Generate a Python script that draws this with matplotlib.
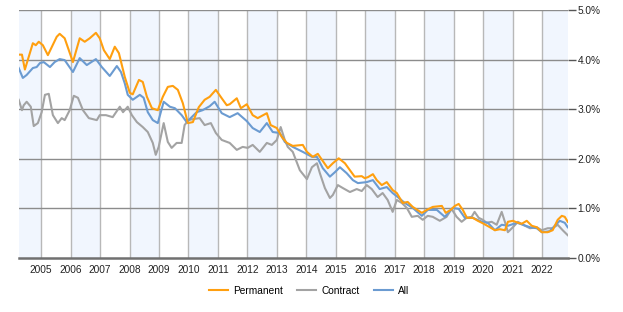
import matplotlib
matplotlib.use("Agg")
import matplotlib.pyplot as plt
from matplotlib.ticker import FuncFormatter

# ---- data (decimal year, percent) ----
perm_t = [2004.24, 2004.35, 2004.45, 2004.72, 2004.82, 2004.92, 2005.06, 2005.23, 2005.53, 2005.63,
          2005.80, 2006.08, 2006.31, 2006.48, 2006.65, 2006.86, 2006.99, 2007.13, 2007.33, 2007.50,
          2007.64, 2007.84, 2008.01, 2008.11, 2008.32, 2008.45, 2008.59, 2008.76, 2008.96, 2009.13,
          2009.30, 2009.47, 2009.64, 2009.81, 2009.98, 2010.15, 2010.35, 2010.55, 2010.72, 2010.93,
          2011.13, 2011.30, 2011.40, 2011.64, 2011.78, 2011.98, 2012.18, 2012.35, 2012.66, 2012.79,
          2013.00, 2013.17, 2013.34, 2013.54, 2013.88, 2014.02, 2014.22, 2014.39, 2014.53, 2014.73,
          2014.90, 2015.10, 2015.31, 2015.48, 2015.64, 2015.88, 2015.98, 2016.09, 2016.26, 2016.39,
          2016.56, 2016.73, 2016.93, 2017.07, 2017.27, 2017.44, 2017.61, 2017.92, 2018.09, 2018.29,
          2018.60, 2018.73, 2018.90, 2019.04, 2019.17, 2019.31, 2019.45, 2019.65, 2019.82, 2019.99,
          2020.23, 2020.40, 2020.57, 2020.74, 2020.84, 2021.01, 2021.18, 2021.31, 2021.48, 2021.65,
          2021.82, 2021.99, 2022.19, 2022.36, 2022.53, 2022.67, 2022.77, 2022.87]
perm_v = [4.10, 4.10, 3.80, 4.33, 4.29, 4.36, 4.29, 4.09, 4.46, 4.52,
          4.43, 3.95, 4.43, 4.36, 4.43, 4.54, 4.43, 4.19, 4.01, 4.26,
          4.13, 3.65, 3.33, 3.30, 3.59, 3.55, 3.25, 3.02, 2.98, 3.25,
          3.45, 3.47, 3.39, 3.12, 2.72, 2.74, 3.04, 3.19, 3.25, 3.39,
          3.22, 3.08, 3.10, 3.22, 3.02, 3.10, 2.88, 2.82, 2.92, 2.68,
          2.62, 2.44, 2.32, 2.26, 2.28, 2.14, 2.04, 2.10, 1.98, 1.81,
          1.91, 2.01, 1.91, 1.77, 1.64, 1.65, 1.61, 1.63, 1.69, 1.57,
          1.47, 1.53, 1.37, 1.31, 1.11, 1.13, 1.03, 0.91, 0.97, 1.03,
          1.05, 0.91, 0.97, 1.05, 1.09, 0.97, 0.81, 0.81, 0.75, 0.70,
          0.62, 0.56, 0.58, 0.56, 0.73, 0.75, 0.71, 0.69, 0.75, 0.65,
          0.62, 0.52, 0.52, 0.56, 0.77, 0.85, 0.83, 0.73]

all_t = [2004.24, 2004.38, 2004.51, 2004.72, 2004.85, 2004.96, 2005.09, 2005.30, 2005.46, 2005.63,
         2005.80, 2006.08, 2006.31, 2006.55, 2006.86, 2007.06, 2007.33, 2007.57, 2007.71, 2007.84,
         2007.94, 2008.11, 2008.35, 2008.48, 2008.62, 2008.79, 2008.96, 2009.16, 2009.37, 2009.54,
         2009.77, 2009.94, 2010.28, 2010.48, 2010.72, 2010.89, 2011.13, 2011.40, 2011.67, 2011.98,
         2012.18, 2012.42, 2012.66, 2012.86, 2013.10, 2013.27, 2013.54, 2013.88, 2014.19, 2014.36,
         2014.56, 2014.80, 2014.97, 2015.14, 2015.37, 2015.58, 2015.75, 2016.05, 2016.26, 2016.49,
         2016.73, 2016.93, 2017.10, 2017.34, 2017.61, 2017.92, 2018.12, 2018.43, 2018.70, 2018.97,
         2019.17, 2019.38, 2019.65, 2019.96, 2020.16, 2020.40, 2020.63, 2020.84, 2021.15, 2021.35,
         2021.59, 2021.82, 2021.99, 2022.26, 2022.43, 2022.60, 2022.77, 2022.87]
all_v = [3.83, 3.63, 3.69, 3.83, 3.85, 3.93, 3.95, 3.85, 3.95, 4.01,
         3.99, 3.75, 4.03, 3.89, 4.01, 3.85, 3.67, 3.87, 3.75, 3.52,
         3.29, 3.19, 3.29, 3.23, 2.94, 2.78, 2.72, 3.15, 3.05, 3.02,
         2.88, 2.74, 2.94, 2.98, 3.06, 3.15, 2.92, 2.84, 2.92, 2.76,
         2.62, 2.54, 2.72, 2.54, 2.52, 2.34, 2.24, 2.14, 2.04, 2.04,
         1.81, 1.64, 1.73, 1.83, 1.71, 1.57, 1.51, 1.53, 1.57, 1.39,
         1.43, 1.31, 1.23, 1.11, 1.01, 0.85, 0.97, 0.97, 0.83, 1.01,
         0.99, 0.81, 0.81, 0.73, 0.71, 0.56, 0.67, 0.65, 0.71, 0.67,
         0.62, 0.60, 0.52, 0.54, 0.65, 0.75, 0.71, 0.62]

con_t = [2004.24, 2004.35, 2004.41, 2004.51, 2004.65, 2004.75, 2004.89, 2005.02, 2005.13, 2005.26,
         2005.40, 2005.57, 2005.70, 2005.80, 2005.97, 2006.11, 2006.25, 2006.42, 2006.62, 2006.89,
         2006.99, 2007.20, 2007.43, 2007.67, 2007.78, 2007.94, 2008.08, 2008.25, 2008.45, 2008.62,
         2008.79, 2008.89, 2008.99, 2009.16, 2009.30, 2009.43, 2009.60, 2009.77, 2009.87, 2010.00,
         2010.15, 2010.38, 2010.55, 2010.76, 2010.93, 2011.13, 2011.40, 2011.64, 2011.84, 2012.01,
         2012.18, 2012.42, 2012.66, 2012.83, 2013.00, 2013.13, 2013.27, 2013.37, 2013.54, 2013.78,
         2014.02, 2014.19, 2014.36, 2014.46, 2014.63, 2014.80, 2014.90, 2015.07, 2015.24, 2015.48,
         2015.71, 2015.88, 2016.05, 2016.22, 2016.42, 2016.59, 2016.76, 2016.93, 2017.07, 2017.24,
         2017.41, 2017.58, 2017.78, 2017.95, 2018.12, 2018.29, 2018.53, 2018.76, 2018.93, 2019.10,
         2019.27, 2019.44, 2019.61, 2019.71, 2019.85, 2019.99, 2020.12, 2020.29, 2020.46, 2020.63,
         2020.77, 2020.84, 2021.01, 2021.18, 2021.35, 2021.59, 2021.82, 2021.99, 2022.19, 2022.36,
         2022.53, 2022.70, 2022.87]
con_v = [3.19, 2.98, 3.08, 3.15, 3.05, 2.66, 2.72, 2.94, 3.29, 3.31,
         2.88, 2.72, 2.82, 2.78, 2.98, 3.27, 3.23, 2.98, 2.82, 2.78,
         2.88, 2.88, 2.84, 3.05, 2.94, 3.05, 2.88, 2.74, 2.64, 2.54,
         2.32, 2.08, 2.24, 2.72, 2.34, 2.22, 2.32, 2.32, 2.68, 2.78,
         2.80, 2.82, 2.68, 2.72, 2.52, 2.38, 2.32, 2.18, 2.24, 2.22,
         2.28, 2.14, 2.32, 2.28, 2.38, 2.64, 2.38, 2.24, 2.14, 1.77,
         1.59, 1.83, 1.91, 1.71, 1.41, 1.21, 1.27, 1.47, 1.41, 1.33,
         1.39, 1.35, 1.47, 1.39, 1.23, 1.31, 1.17, 0.93, 1.17, 1.11,
         1.01, 0.83, 0.85, 0.77, 0.85, 0.83, 0.75, 0.83, 0.99, 0.83,
         0.73, 0.81, 0.83, 0.93, 0.81, 0.77, 0.71, 0.73, 0.67, 0.93,
         0.67, 0.52, 0.62, 0.73, 0.67, 0.60, 0.62, 0.56, 0.60, 0.60,
         0.67, 0.56, 0.46]

years = list(range(2005, 2023))
y_ticks = [0, 1, 2, 3, 4, 5]
series_names = ["Permanent", "Contract", "All"]

# ---- figure ----
plt.rcParams['font.family'] = ['Liberation Sans', 'DejaVu Sans']
fig = plt.figure(figsize=(6.23, 3.12), dpi=100)
ax = fig.add_axes([19/623, 1-258/312, (568-19)/623, (258-10)/312])

x0, x1 = 2004.25, 2022.88
ax.set_xlim(x0, x1)
ax.set_ylim(0, 5)

# alternating bands
edges = [x0] + years + [x1]
for i in range(len(edges) - 1):
    if i % 2 == 0:
        ax.axvspan(edges[i], edges[i+1], color='#f1f6fe', zorder=0, lw=0)

for yr in years:
    ax.axvline(yr, color='#b8b8b8', lw=1.0, zorder=1)
for yv in y_ticks[1:]:
    ax.axhline(yv, color='#8c8c8c', lw=1.0, zorder=1)

ax.plot(con_t, con_v, color='#a3a3a3', lw=1.5, zorder=3, label='Contract')
ax.plot(all_t, all_v, color='#6b9bd1', lw=1.5, zorder=4, label='All')
ax.plot(perm_t, perm_v, color='#ff9f0f', lw=1.5, zorder=5, label='Permanent')

for s in ['top', 'left', 'right']:
    ax.spines[s].set_visible(False)
ax.spines['bottom'].set_color('#707070')
ax.spines['bottom'].set_linewidth(1.8)
ax.spines['bottom'].set_zorder(6)

ax.set_xticks(years)
ax.set_xticklabels([str(y) for y in years])
ax.tick_params(axis='x', length=0, pad=5, labelsize=7.3, labelcolor='#222222')

ax.yaxis.tick_right()
ax.set_yticks(y_ticks)
ax.yaxis.set_major_formatter(FuncFormatter(lambda v, p: f"{v:.1f}%"))
ax.tick_params(axis='y', length=6, width=1, color='#555555', pad=1,
               labelsize=7.3, labelcolor='#222222')

handles, labels = ax.get_legend_handles_labels()
order = [labels.index(n) for n in series_names]
fig.legend([handles[i] for i in order], [labels[i] for i in order],
           loc='center', bbox_to_anchor=(309/623, 1-291/312), ncol=3, frameon=False,
           fontsize=7.3, handlelength=1.9, handletextpad=0.5, columnspacing=1.4)

fig.savefig('out.png', dpi=100)
